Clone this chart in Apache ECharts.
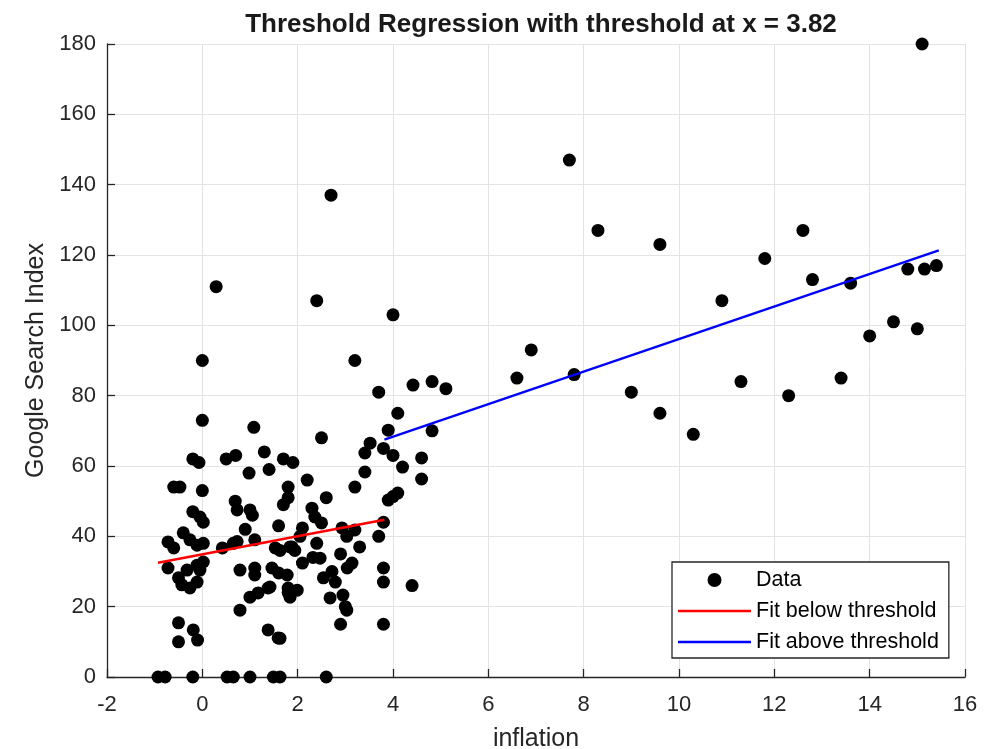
<!DOCTYPE html>
<html>
<head>
<meta charset="utf-8">
<script src="https://cdn.jsdelivr.net/npm/echarts@6/dist/echarts.min.js"></script>
<style>
  html, body { margin: 0; padding: 0; background: #fff; }
  #chart { width: 991px; height: 749px; }
</style>
</head>
<body>
<div id="chart"></div>
<script>
// points: inflation vs search index
const inflation = [
  0.29, 0.0, 2.7, 2.4, 3.2, 3.7, 4.0, 4.42, 4.82, 5.11, 6.6, 6.9, 7.7, 7.8, 8.3, 9.0, 9.6, 9.6, 10.3, 10.9,
  11.3, 11.8, 12.3, 12.6, 12.8, 13.4, 13.6, 14.0, 14.5, 14.8, 15.0, 15.1, 15.15, 15.4,
  4.1, 3.9, 4.82, 3.52, 3.41, 3.8, 4.0, 4.2, 4.6, 3.41, 3.2, 4.6, 3.9, 4.0, 4.1, 2.5, 2.2, 2.6, 3.8, 3.7,
  3.8, 3.8, 4.4, 3.8,
  2.36, 2.5, 2.3, 2.1, 2.05, 2.93, 3.03, 3.2, 3.3, 2.4, 2.9, 1.6, 1.53, 1.94, 1.88, 3.14, 3.04, 2.1, 2.32, 2.47,
  2.54, 2.72, 2.79, 1.46, 1.6, 1.78, 1.8, 1.84, 1.99, 2.68, 2.95, 3.0, 3.03, 2.9, 1.42, 1.8, 1.38, 1.59, 1.63,
  0.0, 1.08, -0.2, -0.07, 0.5, 0.7, 1.3, 1.7, 1.9, 0.98, 1.4, -0.6, -0.47, 0.0, 1.8, 1.8, 1.7, 0.69, 0.73, 1.0,
  1.05, -0.2, -0.05, 0.02, 0.9, -0.4, -0.72, -0.6, -0.26, -0.11, 0.02, 0.42, 0.65, 0.73, 1.1, 1.63, 1.84, -0.72, -0.5, -0.43,
  -0.26, -0.11, -0.05, 0.02, -0.11, -0.32, 0.79, 1.1, 1.1, 1.0, 1.17, 1.38, 0.79, -0.5, -0.19, -0.1, -0.5,
  -0.93, -0.78, -0.2, 0.52, 0.65, 1.0, 1.49, 1.63, 2.6
];
const searchIndex = [
  111, 90, 137, 107, 90, 81, 103, 83, 84, 82, 85, 93, 147, 86, 127, 81, 123, 75, 69, 107,
  84, 119, 80, 127, 113, 85, 112, 97, 101, 116, 99, 180, 116, 117,
  75, 70.2, 70, 66.5, 63.7, 65, 63, 59.7, 62.3, 58.3, 54, 56.3, 50.3, 51.3, 52.3, 68, 56, 51, 44, 40,
  31, 27, 26, 15,
  45.5, 43.8, 48, 42.4, 40, 42.4, 40, 41.8, 37, 38, 35, 43, 36.7, 36, 37, 32.4, 31, 32.4, 34, 33.8,
  28.2, 30, 27, 31, 29.6, 29, 25.3, 22.7, 24.7, 22.5, 23.3, 20, 19, 15, 25.6, 24, 13.4, 11.1, 11,
  73, 71, 62, 61, 62, 63, 64, 62, 61, 58, 59, 54, 54, 53, 54, 51, 49, 50, 47.5, 47.5,
  46, 47, 45.5, 44, 42, 41, 38.4, 36.7, 39, 37.5, 38, 36.7, 38, 38.5, 39, 36, 37, 31, 28.2, 26.2,
  25.3, 27, 30.4, 32.7, 31.8, 30.4, 30.4, 31, 29, 22.7, 23.9, 25.3, 19, 15.4, 13.4, 10.5, 10,
  0, 0, 0, 0, 0, 0, 0, 0, 0
];
const threshold = 3.82;
const fitBelowX = [-0.93, threshold];
const fitBelowY = [32.5, 44.7];
const fitAboveX = [threshold, 15.45];
const fitAboveY = [67.5, 121.3];

const pairs = (xs, ys) => xs.map((x, i) => [x, ys[i]]);

const chart = echarts.init(document.getElementById('chart'));
const font = 'Liberation Sans, Arial, sans-serif';
const lineIcon = 'path://M0,0 L73,0 L73,2.5 L0,2.5 Z';

const option = {
  backgroundColor: '#fff',
  animation: false,
  title: {
    text: 'Threshold Regression with threshold at x = ' + threshold,
    left: 536,
    textAlign: 'center',
    top: 7,
    textStyle: { fontFamily: font, fontSize: 26, fontWeight: 'bold', color: '#1a1a1a' }
  },
  grid: { left: 107, right: 26, top: 44, bottom: 72, outerBoundsMode: 'none' },
  xAxis: {
    type: 'value',
    min: -2, max: 16, interval: 2,
    name: 'inflation',
    nameLocation: 'middle',
    nameGap: 50,
    nameTextStyle: { fontFamily: font, fontSize: 25, color: '#262626' },
    axisLine: { onZero: false, lineStyle: { color: '#262626', width: 1.3 } },
    axisTick: { inside: true, length: 8, lineStyle: { color: '#262626', width: 1.3 } },
    axisLabel: { fontFamily: font, fontSize: 22, color: '#262626', margin: 17 },
    splitLine: { show: true, lineStyle: { color: '#e3e3e3', width: 1 } }
  },
  yAxis: {
    type: 'value',
    min: 0, max: 180, interval: 20,
    name: 'Google Search Index',
    nameLocation: 'middle',
    nameGap: 58,
    nameTextStyle: { fontFamily: font, fontSize: 25, color: '#262626' },
    axisLine: { show: true, onZero: false, lineStyle: { color: '#262626', width: 1.3 } },
    axisTick: { show: true, inside: true, length: 8, lineStyle: { color: '#262626', width: 1.3 } },
    axisLabel: { fontFamily: font, fontSize: 22, color: '#262626', margin: 11 },
    splitLine: { show: true, lineStyle: { color: '#e3e3e3', width: 1 } }
  },
  legend: {
    orient: 'vertical',
    left: 672,
    top: 562,
    padding: [7, 10, 5, 6],
    itemGap: 9,
    itemWidth: 73,
    itemHeight: 14,
    borderColor: '#262626',
    borderWidth: 1.3,
    backgroundColor: '#fff',
    textStyle: { fontFamily: font, fontSize: 21.5, color: '#000' },
    data: [
      { name: 'Data', icon: 'circle' },
      { name: 'Fit below threshold', icon: lineIcon },
      { name: 'Fit above threshold', icon: lineIcon }
    ]
  },
  series: [
    {
      name: 'Data',
      type: 'scatter',
      symbol: 'circle',
      symbolSize: 13,
      itemStyle: { color: '#000', opacity: 1 },
      data: pairs(inflation, searchIndex),
      z: 2
    },
    {
      name: 'Fit below threshold',
      type: 'line',
      symbol: 'none',
      lineStyle: { color: '#ff0000', width: 2.5 },
      itemStyle: { color: '#ff0000' },
      data: pairs(fitBelowX, fitBelowY),
      z: 3
    },
    {
      name: 'Fit above threshold',
      type: 'line',
      symbol: 'none',
      lineStyle: { color: '#0000ff', width: 2.5 },
      itemStyle: { color: '#0000ff' },
      data: pairs(fitAboveX, fitAboveY),
      z: 3
    }
  ]
};

chart.setOption(option);
</script>
</body>
</html>
